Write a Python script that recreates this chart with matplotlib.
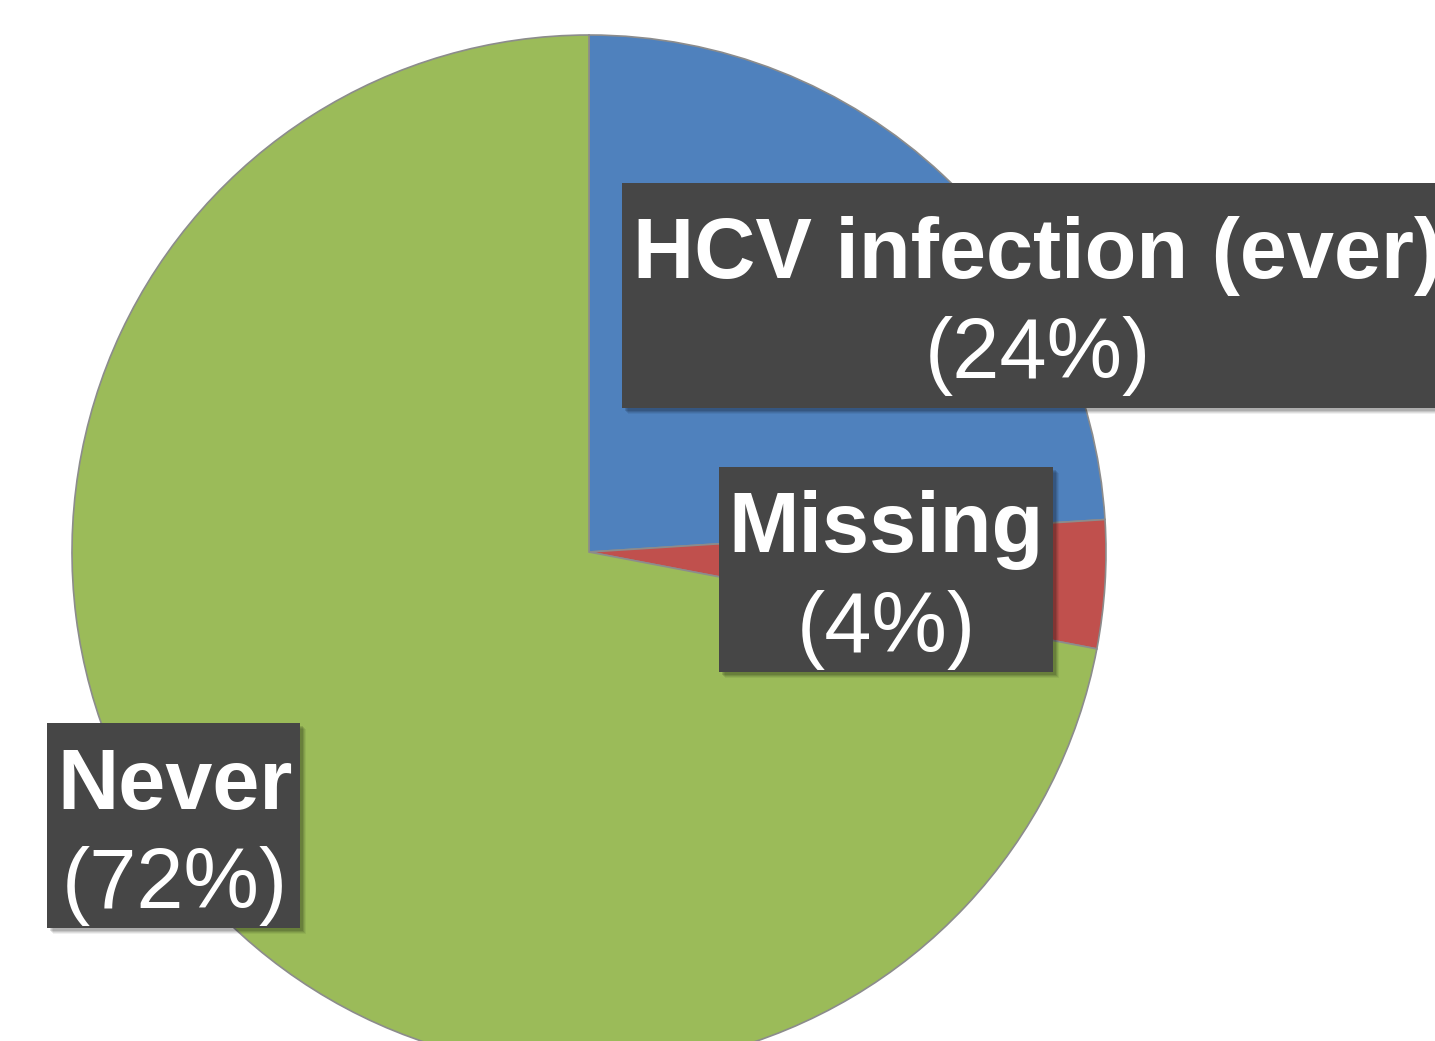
import matplotlib.pyplot as plt
from matplotlib.patches import Rectangle

# data
labels = ['HCV infection (ever)', 'Missing', 'Never']
shares = [24, 4, 72]
colors = ['#4F81BD', '#C0504D', '#9BBB59']

W, H = 1435, 1041
plt.rcParams['font.family'] = ['Liberation Sans', 'DejaVu Sans']

fig = plt.figure(figsize=(W / 100, H / 100), dpi=100)
ax = fig.add_axes([0, 0, 1, 1])
ax.axis('off')

# pie, centre and radius in pixel units (y measured from the bottom)
ax.pie(shares, colors=colors, startangle=90, counterclock=False,
       center=(589, H - 552), radius=517,
       wedgeprops=dict(edgecolor='#8c8c8c', linewidth=1.2))
ax.set_xlim(0, W)
ax.set_ylim(0, H)
ax.set_aspect('equal')

# label boxes: left, top, width, height (pixels from top-left), text centre x
boxes = [
    (622, 183, 840, 225, 1038),
    (719, 467, 334, 205, 886),
    (47, 723, 253, 205, 175),
]

for lab, pct, (x0, y0, bw, bh, tx) in zip(labels, shares, boxes):
    # soft shadow
    for k, a in [(6, 0.06), (5, 0.08), (4, 0.1), (3, 0.12)]:
        ax.add_patch(Rectangle((x0 + k, H - y0 - bh - k), bw, bh,
                               facecolor='black', edgecolor='none', alpha=a, zorder=3))
    ax.add_patch(Rectangle((x0, H - y0 - bh), bw, bh,
                           facecolor='#464646', edgecolor='none', zorder=4))
    yc = y0 + bh / 2
    ax.text(tx, H - (yc - 17), lab, color='white', fontsize=61, fontweight='bold',
            ha='center', va='baseline', zorder=5)
    ax.text(tx, H - (yc + 82), '(%d%%)' % pct, color='white', fontsize=61,
            ha='center', va='baseline', zorder=5)

fig.savefig('out.png', dpi=100)
